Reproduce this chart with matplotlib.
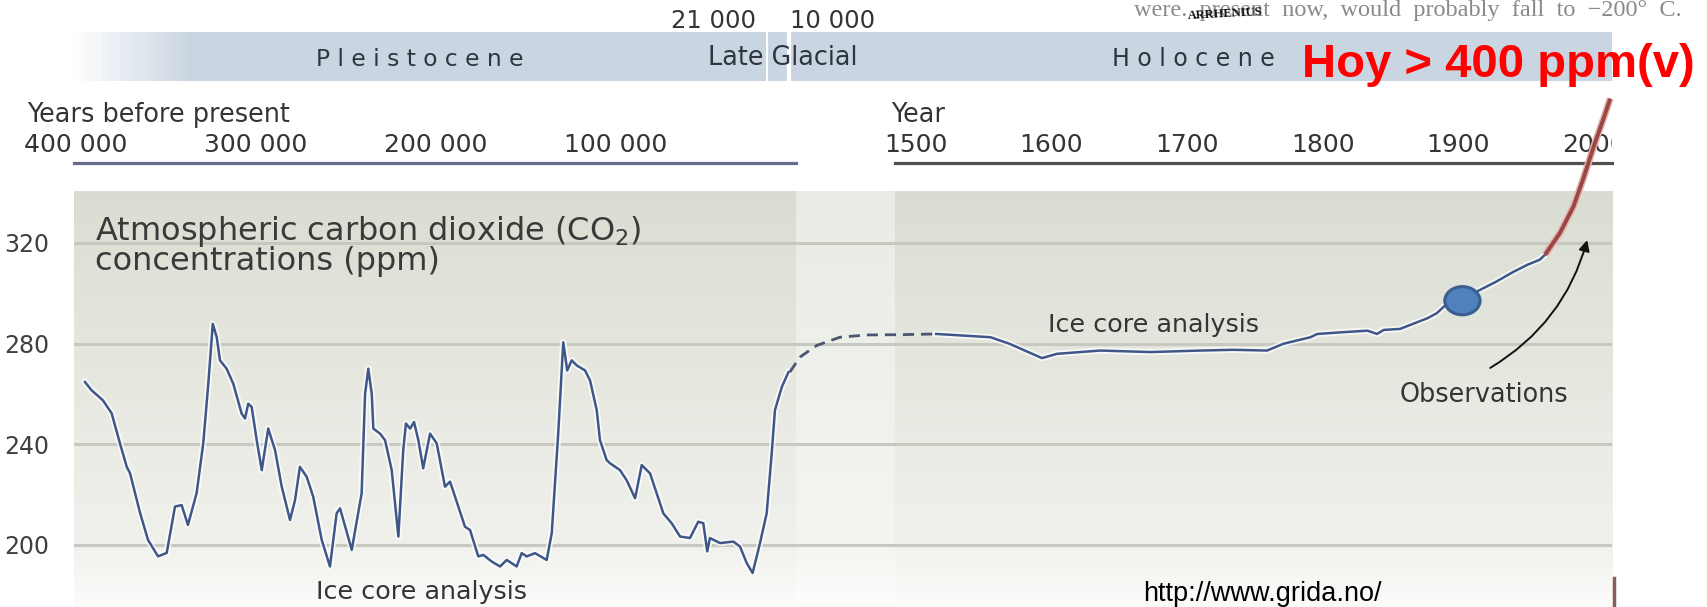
import numpy as np
import matplotlib.pyplot as plt
import matplotlib.patheffects as pe
from matplotlib.colors import LinearSegmentedColormap
from matplotlib.patches import Ellipse
from matplotlib.lines import Line2D
from matplotlib.transforms import Bbox, TransformedBbox

W, H = 1708, 607

# ice core record, thousands of years before present
ice_ka = [395.0, 391.3, 385.0, 380.2, 375.6, 371.8, 370.0, 364.4, 360.0, 354.4,
          349.6, 345.0, 341.3, 337.8, 333.0, 329.3, 326.5, 324.0, 321.8, 320.0,
          316.3, 312.6, 308.0, 306.1, 304.3, 302.4, 299.6, 296.8, 293.2, 289.4,
          285.7, 281.1, 278.3, 275.6, 271.8, 268.2, 263.5, 258.9, 255.2, 253.3,
          246.8, 241.3, 239.4, 237.6, 235.7, 234.8, 231.1, 228.3, 224.6, 220.9,
          218.2, 216.7, 214.4, 212.2, 209.8, 207.1, 203.3, 199.6, 195.0, 192.2,
          189.4, 183.9, 181.1, 176.5, 173.7, 169.1, 164.4, 160.7, 155.2, 152.4,
          149.6, 145.0, 138.5, 135.7, 132.1, 129.3, 127.1, 124.6, 121.8, 117.2,
          114.4, 110.7, 108.9, 105.2, 103.3, 97.8, 94.1, 89.4, 85.7, 81.1,
          77.4, 73.7, 69.1, 64.4, 58.9, 54.3, 51.5, 49.3, 47.8, 42.2,
          34.8, 31.1, 27.4, 24.1, 20.0, 16.3, 13.5, 11.7, 7.9, 4.2]
ice_ppm = [264.7, 261.4, 257.4, 252.3, 240.4, 231.0, 228.5, 212.7, 202.0, 195.4,
           196.8, 215.2, 215.8, 207.9, 220.5, 240.3, 264.0, 287.8, 282.5, 273.3,
           270.0, 264.0, 252.2, 250.2, 256.1, 254.8, 241.6, 229.7, 246.2, 237.6,
           223.1, 209.9, 217.8, 231.0, 227.0, 219.1, 202.0, 191.4, 212.5, 214.5,
           198.0, 220.5, 260.0, 270.0, 260.0, 246.2, 244.2, 241.6, 229.7, 203.3,
           237.6, 248.2, 246.2, 248.8, 241.6, 230.4, 244.2, 240.3, 223.1, 225.1,
           219.1, 207.2, 205.9, 195.4, 196.0, 193.4, 191.4, 194.0, 191.4, 196.7,
           195.4, 196.7, 194.0, 204.6, 244.2, 280.5, 269.3, 273.3, 271.3, 269.3,
           265.3, 253.5, 241.6, 233.7, 232.4, 229.7, 225.7, 218.5, 231.7, 228.4,
           220.5, 212.5, 208.6, 203.3, 202.7, 209.2, 208.6, 197.4, 202.7, 200.7,
           201.3, 199.3, 192.8, 188.8, 200.7, 212.5, 236.3, 253.5, 262.7, 268.6]

# ice core record, calendar years
core_year = [1515, 1555, 1569, 1593, 1604, 1636, 1673, 1710, 1734, 1759,
             1771, 1791, 1796, 1815, 1833, 1840, 1845, 1857, 1877, 1884,
             1892, 1904, 1916, 1928, 1941, 1951, 1960, 1964]
core_ppm = [283.8, 282.5, 279.9, 274.2, 275.9, 277.2, 276.6, 277.2, 277.5, 277.2,
            279.9, 282.5, 283.8, 284.5, 285.1, 283.8, 285.4, 285.8, 290.0, 292.0,
            296.0, 298.0, 301.3, 304.6, 308.6, 311.3, 313.3, 315.3]

# observations
obs_year = [1964, 1975, 1985, 1992, 2000, 2007, 2012]
obs_ppm = [315.3, 324.0, 334.6, 345.3, 358.6, 369.3, 377.3]

# dashed link between both records
link_year = [1407, 1414.5, 1426.8, 1444, 1463.7, 1488.3, 1515.3]
link_ppm = [268.6, 274.6, 279.2, 282.5, 283.4, 283.5, 283.8]

ppm_ticks = [200, 240, 280, 320]
ka_ticks = [400, 300, 200, 100]
ka_labels = ['400 000', '300 000', '200 000', '100 000']
year_ticks = [1500, 1600, 1700, 1800, 1900, 2000]
year_labels = ['1500', '1600', '1700', '1800', '1900', '2000']
dot_year, dot_ppm = 1903, 297

YLIM = (175.3, 340.6)
KA_LIM = (401.1, 0)
YEAR_LIM = (1484.6, 2013.3)

TXT = '#343434'
LINE = '#3f5788'


def box(x0, y0, x1, y1):
    # pixel box, origin top left -> figure rect
    return [x0 / W, 1 - y1 / H, (x1 - x0) / W, (y1 - y0) / H]


def put(x, y, s, **kw):
    kw.setdefault('va', 'baseline')
    kw.setdefault('color', TXT)
    fig.text(x / W, 1 - y / H, s, **kw)


fig = plt.figure(figsize=(W / 100, H / 100), dpi=100)

# ---- shaded panels + grid
bg = fig.add_axes(box(74, 191, 1612, 607))
grad = np.linspace(0, 1, 256)[:, None]
panel_cm = LinearSegmentedColormap.from_list(
    'panel', [(0, '#d9ddd1'), (0.45, '#e6e8e0'), (0.85, '#f0f1ec'), (1, '#fcfcfb')])
gap_cm = LinearSegmentedColormap.from_list(
    'gap', [(0, '#e9ebe4'), (0.85, '#f4f5f1'), (1, '#fdfdfc')])
for x0, x1, cm in [(0, 0.4694, panel_cm), (0.4694, 0.5338, gap_cm), (0.5338, 1, panel_cm)]:
    bg.imshow(grad, cmap=cm, extent=(x0, x1, YLIM[0], YLIM[1]), aspect='auto',
              origin='upper', zorder=0)
for v in ppm_ticks:
    bg.axhline(v, color='#c7c9c1', lw=2.2, zorder=1)
bg.set_xlim(0, 1)
bg.set_ylim(*YLIM)
for s in bg.spines.values():
    s.set_visible(False)
bg.set_xticks([])
bg.set_yticks(ppm_ticks)
bg.tick_params(axis='y', length=0, pad=18, labelsize=17, labelcolor='#404040')

# ---- period band
band = fig.add_axes(box(66, 32, 1612, 81))
band_cm = LinearSegmentedColormap.from_list(
    'band', [(0, '#ffffff'), (0.02, '#f3f5f8'), (0.08, '#c9d5e1'), (1, '#c9d5e1')])
band.imshow(np.linspace(0, 1, 512)[None, :], cmap=band_cm, extent=(0, 1, 0, 1),
            aspect='auto')
band.axvline(0.4535, color='white', lw=1.5)
band.axvline(0.4675, color='white', lw=3)
band.set_xlim(0, 1)
band.set_ylim(0, 1)
band.set_axis_off()


# ---- time scales above panels
def scale_axis(x0, x1, lim, ticks, labels, color):
    ax = fig.add_axes([x0 / W, 1 - 163 / H, (x1 - x0) / W, 1e-4])
    ax.set_xlim(*lim)
    ax.patch.set_visible(False)
    for k, s in ax.spines.items():
        s.set_visible(k == 'bottom')
    ax.spines['bottom'].set_color(color)
    ax.spines['bottom'].set_linewidth(2.3)
    ax.set_yticks([])
    ax.set_xticks(ticks, labels)
    ax.tick_params(axis='x', bottom=False, labelbottom=False, top=False,
                   labeltop=True, length=0, pad=4, labelsize=18, labelcolor=TXT)
    return ax


sl = scale_axis(74, 796, KA_LIM, ka_ticks, ka_labels, '#676b8c')
sr = scale_axis(895, 1612, YEAR_LIM, year_ticks, year_labels, '#505050')
clip = TransformedBbox(Bbox([[0, 0], [1612 / W, 1]]), fig.transFigure)
for t in sr.get_xticklabels():
    t.set_clip_box(clip)
    t.set_clip_on(True)

halo = [pe.Stroke(linewidth=4.5, foreground='white', alpha=0.75), pe.Normal()]

# ---- left panel: ice core, years before present
lax = fig.add_axes(box(74, 191, 796, 607))
lax.set_xlim(*KA_LIM)
lax.set_ylim(*YLIM)
lax.set_axis_off()
lax.plot(ice_ka, ice_ppm, color=LINE, lw=1.8, path_effects=halo)

# ---- right panel: last 500 years
rax = fig.add_axes(box(895, 191, 1612, 607))
rax.set_xlim(*YEAR_LIM)
rax.set_ylim(*YLIM)
rax.set_axis_off()
rax.plot(link_year, link_ppm, color='#4a5670', lw=2, ls=(0, (4, 2.5)), clip_on=False)
rax.plot(core_year, core_ppm, color=LINE, lw=1.8, path_effects=halo)
rax.plot(obs_year, obs_ppm, color='#9a4744', lw=2.8, clip_on=False,
         solid_capstyle='butt',
         path_effects=[pe.Stroke(linewidth=5, foreground='#e3b0ae'), pe.Normal()])
rax.add_patch(Ellipse((dot_year, dot_ppm), 26, 11.2, fc='#4f81bd', ec='#3a5f8f',
                      lw=2.2, zorder=5))
rax.annotate('', xy=(1995, 321.1), xytext=(1923.5, 270.3), annotation_clip=False,
             arrowprops=dict(arrowstyle='-|>', color='#111111', lw=1.4,
                             mutation_scale=16, shrinkA=0, shrinkB=0,
                             connectionstyle='arc3,rad=0.2'))

# ---- texts
put(1134, 16, 'were.  present  now,  would  probably  fall  to  \u2212200\u00b0  C.',
    family='Liberation Serif', size=17.5, color='#8a8a8a')
put(1225, 14, 'ARRHENIUS', family='Liberation Serif', weight='bold', size=9,
    color='#111111', ha='center', va='center', rotation=3)
put(714, 28, '21 000', size=17.5, ha='center')
put(833, 28, '10 000', size=17.5, ha='center')
put(420, 66, ' '.join('Pleistocene'), size=16.8, ha='center', color='#2d3540')
put(783, 65, 'Late Glacial', size=18.4, ha='center', color='#2d3540')
put(1193, 66, ' '.join('Holocene'), size=17, ha='center', color='#2d3540')
put(1302, 77, 'Hoy > 400 ppm(v)', family='Liberation Sans', weight='bold', size=34,
    color='#ff0000')
put(27, 122, 'Years before present', size=18.4)
put(891, 122, 'Year', size=18.4)
put(95, 240, 'Atmospheric carbon dioxide (CO$_2$)', size=23, color='#3a3a3a')
put(95, 270, 'concentrations (ppm)', size=23, color='#3a3a3a')
put(422, 599, 'Ice core analysis', size=18.3, ha='center')
put(1154, 332, 'Ice core analysis', size=18.3, ha='center')
put(1484, 402, 'Observations', size=18.4, ha='center')
put(1143, 601, 'http://www.grida.no/', family='Liberation Sans', size=19.5,
    color='black')
fig.add_artist(Line2D([1614 / W] * 2, [0, 1 - 578 / H], color='#8a5c5c', lw=2.5))

fig.savefig('out.png', dpi=100)
